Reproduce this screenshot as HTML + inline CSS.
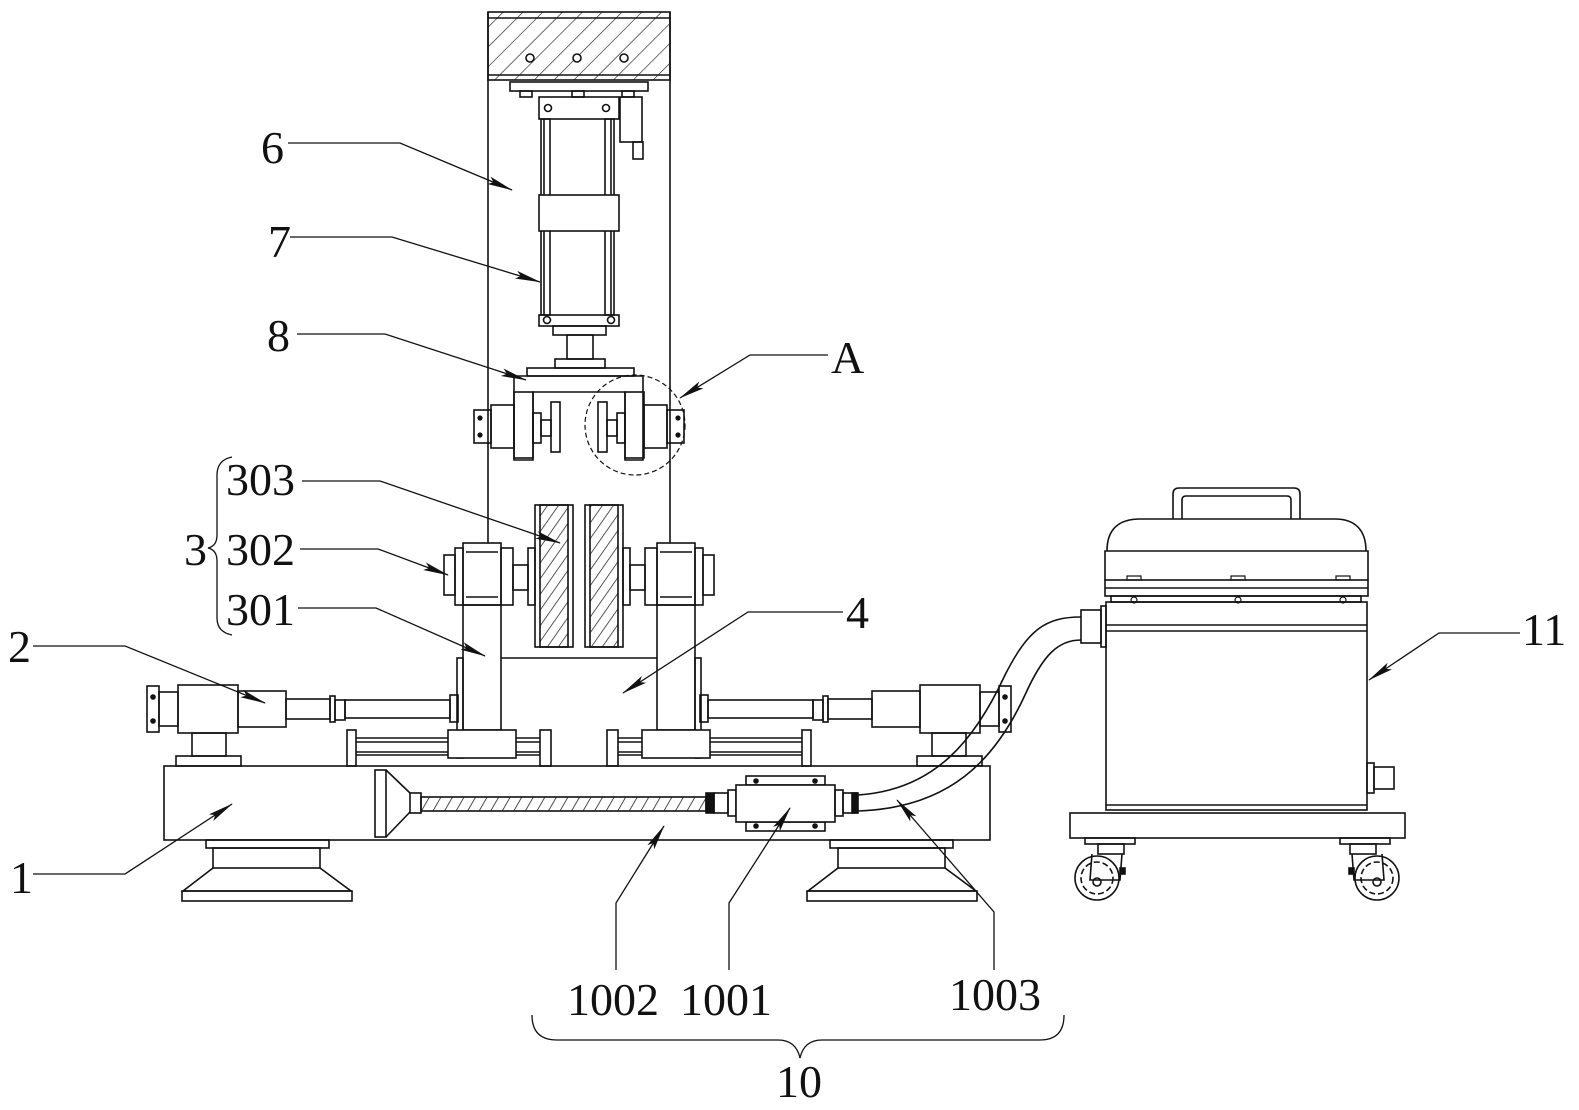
<!DOCTYPE html>
<html><head><meta charset="utf-8"><style>
html,body{margin:0;padding:0;background:#fff;}
svg{display:block;}
text{font-family:"Liberation Serif",serif;font-size:46px;fill:#111;}
</style></head><body>
<svg width="1579" height="1110" viewBox="0 0 1579 1110" xmlns="http://www.w3.org/2000/svg">
<defs>
<pattern id="h1" patternUnits="userSpaceOnUse" width="14" height="14" patternTransform="rotate(45)"><line x1="0" y1="0" x2="0" y2="14" stroke="#222" stroke-width="1.3"/></pattern>
<pattern id="h2" patternUnits="userSpaceOnUse" width="9" height="9" patternTransform="rotate(35)"><line x1="0" y1="0" x2="0" y2="9" stroke="#222" stroke-width="1.5"/></pattern>
<pattern id="h3" patternUnits="userSpaceOnUse" width="10" height="10" patternTransform="rotate(30)"><line x1="0" y1="0" x2="0" y2="10" stroke="#222" stroke-width="1.6"/></pattern>
<marker id="ar" markerWidth="26" markerHeight="10" refX="25" refY="5" orient="auto" markerUnits="userSpaceOnUse"><path d="M0,1 L26,5 L0,9 L5,5 Z" fill="#111"/></marker>
<g id="half">
 <!-- upright 301 -->
 <rect x="463" y="605" width="38" height="125"/>
 <rect x="457" y="658" width="6" height="100"/>
 <!-- bearing block 302 -->
 <rect x="463" y="543" width="38" height="62"/>
 <line x1="466" y1="552" x2="498" y2="552"/><line x1="466" y1="597" x2="498" y2="597"/>
 <rect x="455" y="548" width="8" height="57"/>
 <rect x="444" y="555" width="11" height="40"/>
 <rect x="501" y="548" width="12" height="57"/>
 <rect x="513" y="565" width="15" height="25"/>
 <rect x="528" y="548" width="7" height="57"/>
 <!-- rails -->
 <rect x="347" y="730" width="9" height="36"/>
 <rect x="540" y="730" width="11" height="36"/>
 <line x1="356" y1="738" x2="540" y2="738"/><line x1="356" y1="742" x2="540" y2="742"/>
 <line x1="356" y1="752" x2="540" y2="752"/><line x1="356" y1="755" x2="540" y2="755"/>
 <rect x="448" y="730" width="68" height="28" fill="#fff"/>
 <!-- push cylinder 2 -->
 <rect x="147" y="686" width="12" height="46"/>
 <circle cx="153" cy="697" r="2" fill="#111"/><circle cx="153" cy="721" r="2" fill="#111"/>
 <rect x="159" y="692" width="19" height="34"/>
 <rect x="178" y="685" width="60" height="48"/>
 <rect x="238" y="691" width="48" height="36"/>
 <rect x="286" y="699" width="44" height="20"/>
 <rect x="330" y="696" width="5" height="26"/>
 <rect x="335" y="700" width="10" height="20"/>
 <rect x="345" y="700" width="105" height="18"/>
 <rect x="450" y="695" width="8" height="27"/>
 <rect x="192" y="733" width="34" height="23"/>
 <rect x="176" y="756" width="65" height="10"/>
 <!-- top motor -->
 <rect x="514" y="392" width="19" height="66"/>
 <rect x="491" y="405" width="23" height="43"/>
 <rect x="474" y="410" width="17" height="33"/>
 <circle cx="480" cy="418" r="1.8" fill="#111"/><circle cx="480" cy="435" r="1.8" fill="#111"/>
 <rect x="533" y="413" width="8" height="30"/>
 <rect x="541" y="420" width="10" height="16"/>
 <rect x="551" y="402" width="9" height="50"/>
</g>
</defs>
<g fill="none" stroke="#111" stroke-width="1.6">
<!-- column -->
<line x1="488" y1="12" x2="488" y2="543"/>
<line x1="670" y1="12" x2="670" y2="543"/>
<rect x="488" y="12" width="182" height="68" fill="url(#h1)"/>
<line x1="488" y1="18" x2="670" y2="18"/>
<line x1="488" y1="75" x2="670" y2="75"/>
<circle cx="530" cy="58" r="4" fill="#fff"/><circle cx="577" cy="58" r="4" fill="#fff"/><circle cx="624" cy="58" r="4" fill="#fff"/>
<rect x="510" y="82" width="138" height="9"/>
<rect x="520" y="91" width="12" height="6"/><rect x="572" y="91" width="12" height="6"/><rect x="622" y="91" width="12" height="6"/>
<!-- cylinder -->
<rect x="539" y="97" width="80" height="22"/>
<circle cx="548" cy="108" r="3.5"/><circle cx="606" cy="108" r="3.5"/>
<rect x="620" y="97" width="22" height="45"/>
<rect x="633" y="142" width="10" height="17"/>
<rect x="541" y="119" width="9" height="196"/>
<rect x="605" y="119" width="9" height="196"/>
<line x1="544" y1="119" x2="544" y2="315"/><line x1="611" y1="119" x2="611" y2="315"/>
<rect x="539" y="195" width="80" height="36" fill="#fff"/>
<rect x="539" y="315" width="80" height="11"/>
<circle cx="547" cy="320" r="3.5"/><circle cx="611" cy="320" r="3.5"/>
<rect x="553" y="326" width="53" height="9"/>
<rect x="567" y="335" width="26" height="24"/>
<rect x="555" y="359" width="50" height="9"/>
<rect x="527" y="368" width="107" height="8"/>
<!-- U bracket -->
<path d="M514,376 H643 V460 H625 V392 H533 V460 H514 Z"/>
<use href="#half"/>
<use href="#half" transform="translate(1158,0) scale(-1,1)"/>
<!-- circle A -->
<circle cx="635" cy="425" r="50" stroke-dasharray="5,3" stroke-width="1.2"/>
<!-- grinding wheels -->
<rect x="535" y="505" width="38" height="142"/>
<rect x="540" y="505" width="28" height="142" fill="url(#h2)"/>
<rect x="585" y="505" width="38" height="142"/>
<rect x="590" y="505" width="28" height="142" fill="url(#h2)"/>
<!-- stand plate -->
<line x1="501" y1="658" x2="657" y2="658"/>
<!-- base 1 -->
<rect x="164" y="766" width="826" height="74"/>
<!-- feet -->
<rect x="206" y="840" width="123" height="8"/>
<rect x="213" y="848" width="107" height="20"/>
<path d="M213,868 L183,891 H351 L320,868"/>
<rect x="182" y="891" width="170" height="10"/>
<rect x="830" y="840" width="123" height="8"/>
<rect x="838" y="848" width="107" height="20"/>
<path d="M838,868 L808,891 H976 L945,868"/>
<rect x="807" y="891" width="170" height="10"/>
<!-- suction -->
<rect x="375" y="770" width="11" height="67"/>
<path d="M386,770 L410,793 M386,837 L410,812"/>
<rect x="410" y="793" width="11" height="20"/>
<rect x="421" y="797" width="285" height="14" fill="url(#h3)"/>
<rect x="706" y="793" width="8" height="20" fill="#111"/>
<rect x="714" y="793" width="14" height="20"/>
<rect x="728" y="790" width="8" height="26"/>
<rect x="746" y="776" width="79" height="9"/>
<rect x="746" y="822" width="79" height="9"/>
<circle cx="756" cy="781" r="2" fill="#111"/><circle cx="815" cy="781" r="2" fill="#111"/>
<circle cx="756" cy="826" r="2" fill="#111"/><circle cx="815" cy="826" r="2" fill="#111"/>
<rect x="736" y="785" width="99" height="37" fill="#fff"/>
<rect x="835" y="790" width="8" height="26"/>
<rect x="843" y="793" width="14" height="20"/>
<rect x="852" y="793" width="6" height="20" fill="#111"/>
<!-- hose -->
<path d="M858,795 C935,790 975,740 1005,675 C1028,630 1045,617 1081,617"/>
<path d="M858,811 C950,808 995,760 1025,695 C1043,655 1058,640 1081,640"/>
<!-- vacuum 11 -->
<rect x="1081" y="610" width="20" height="33"/>
<rect x="1101" y="606" width="5" height="41"/>
<rect x="1106" y="602" width="261" height="208"/>
<line x1="1106" y1="625" x2="1367" y2="625"/><line x1="1106" y1="631" x2="1367" y2="631"/>
<line x1="1106" y1="805" x2="1367" y2="805"/>
<rect x="1111" y="596" width="250" height="6"/>
<rect x="1105" y="580" width="263" height="16"/>
<line x1="1105" y1="588" x2="1368" y2="588"/>
<path d="M1105,580 V551 H1368 V580"/>
<path d="M1107,551 C1107,530 1118,519 1140,519 H1335 C1355,519 1366,530 1366,551"/>
<path d="M1173,519 V494 Q1173,488 1179,488 H1294 Q1300,488 1300,494 V519"/>
<path d="M1182,519 V500 Q1182,496 1186,496 H1287 Q1291,496 1291,500 V519"/>
<g stroke-width="1.2">
<rect x="1127" y="576" width="14" height="4"/><rect x="1231" y="576" width="14" height="4"/><rect x="1336" y="576" width="14" height="4"/>
<circle cx="1134" cy="600" r="3"/><circle cx="1238" cy="600" r="3"/><circle cx="1343" cy="600" r="3"/>
</g>
<rect x="1367" y="763" width="7" height="30"/>
<rect x="1374" y="767" width="20" height="22"/>
<rect x="1070" y="813" width="335" height="25"/>
<rect x="1085" y="838" width="50" height="6"/>
<rect x="1340" y="838" width="50" height="6"/>
<rect x="1098" y="844" width="26" height="10"/>
<rect x="1350" y="844" width="26" height="10"/>
<circle cx="1097" cy="878" r="22"/><circle cx="1097" cy="878" r="16" stroke-dasharray="6,3"/>
<circle cx="1097" cy="882" r="4"/>
<circle cx="1377" cy="878" r="22"/><circle cx="1377" cy="878" r="16" stroke-dasharray="6,3"/>
<circle cx="1377" cy="882" r="4"/>
<path d="M1092,854 L1090,880 L1120,880 L1122,854"/>
<path d="M1382,854 L1384,880 L1354,880 L1352,854"/>
<rect x="1120" y="868" width="5" height="6" fill="#111"/><rect x="1349" y="868" width="5" height="6" fill="#111"/>
</g>
<!-- leaders -->
<g fill="none" stroke="#111" stroke-width="1.3">
<polyline points="288,143 400,143 512,190" marker-end="url(#ar)"/>
<polyline points="290,237 392,237 540,282" marker-end="url(#ar)"/>
<polyline points="297,334 385,334 526,380" marker-end="url(#ar)"/>
<polyline points="828,355 750,355 680,398" marker-end="url(#ar)"/>
<polyline points="302,481 380,481 560,543" marker-end="url(#ar)"/>
<polyline points="300,549 378,549 448,575" marker-end="url(#ar)"/>
<polyline points="298,608 376,608 485,656" marker-end="url(#ar)"/>
<polyline points="843,612 748,612 623,693" marker-end="url(#ar)"/>
<polyline points="33,646 125,646 265,703" marker-end="url(#ar)"/>
<polyline points="33,874 125,874 232,804" marker-end="url(#ar)"/>
<polyline points="1520,633 1439,633 1369,680" marker-end="url(#ar)"/>
<polyline points="616,970 616,903 664,826" marker-end="url(#ar)"/>
<polyline points="729,970 729,903 790,808" marker-end="url(#ar)"/>
<polyline points="994,970 994,912 897,800" marker-end="url(#ar)"/>
<!-- braces -->
<path d="M232,457 Q217,460 217,475 V535 Q217,546 208,548 Q217,550 217,561 V618 Q217,632 232,635"/>
<path d="M532,1015 Q532,1040 557,1040 H778 Q796,1040 800,1058 Q804,1040 822,1040 H1040 Q1064,1040 1064,1015"/>
</g>
<!-- labels -->
<text x="261" y="163">6</text>
<text x="268" y="257">7</text>
<text x="267" y="351">8</text>
<text x="831" y="373">A</text>
<text x="226" y="495">303</text>
<text x="184" y="565">3</text>
<text x="226" y="565">302</text>
<text x="226" y="625">301</text>
<text x="846" y="628">4</text>
<text x="8" y="662">2</text>
<text x="10" y="893">1</text>
<text x="1522" y="645">11</text>
<text x="567" y="1015">1002</text>
<text x="680" y="1015">1001</text>
<text x="949" y="1010">1003</text>
<text x="776" y="1097">10</text>
</svg>
</body></html>
